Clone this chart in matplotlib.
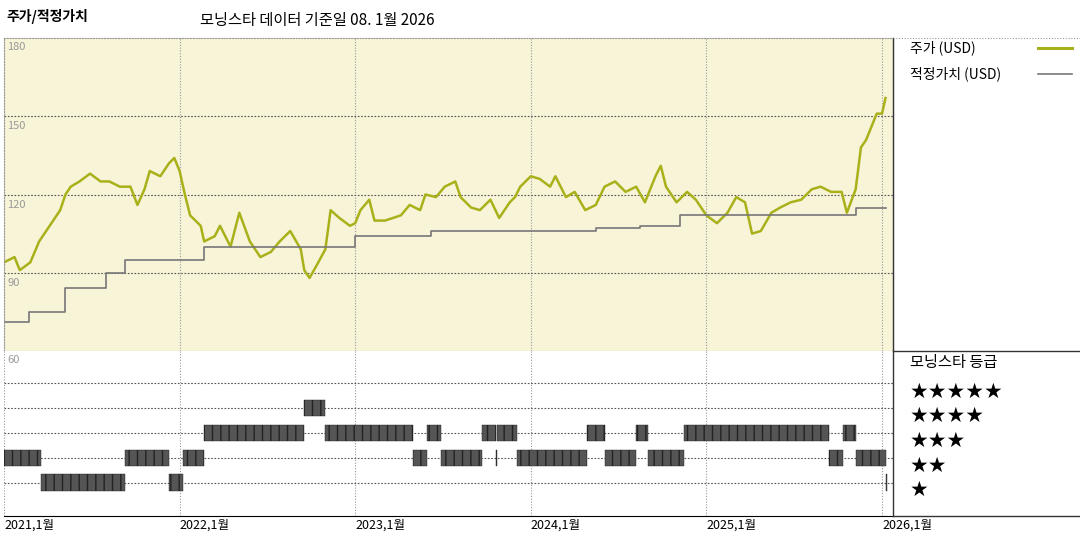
import matplotlib
matplotlib.use("Agg")
import matplotlib.pyplot as plt
import numpy as np

plt.rcParams['font.family'] = ['Noto Sans CJK KR', 'DejaVu Sans']

# price (fractional year, USD)
price_x = [2021.00,2021.06,2021.09,2021.15,2021.20,2021.26,2021.32,2021.35,2021.38,2021.43,2021.49,2021.55,2021.60,2021.66,2021.72,2021.76,2021.80,2021.83,2021.89,2021.94,2021.97,2022.00,2022.03,2022.06,2022.12,2022.14,2022.20,2022.23,2022.29,2022.34,2022.40,2022.46,2022.52,2022.57,2022.63,2022.69,2022.71,2022.74,2022.79,2022.83,2022.86,2022.91,2022.97,2023.00,2023.03,2023.08,2023.11,2023.17,2023.26,2023.31,2023.37,2023.40,2023.46,2023.51,2023.57,2023.60,2023.66,2023.71,2023.77,2023.82,2023.88,2023.91,2023.94,2024.00,2024.05,2024.11,2024.14,2024.20,2024.25,2024.31,2024.37,2024.42,2024.48,2024.54,2024.60,2024.65,2024.71,2024.74,2024.77,2024.83,2024.89,2024.94,2025.00,2025.06,2025.12,2025.17,2025.22,2025.26,2025.31,2025.37,2025.42,2025.48,2025.54,2025.60,2025.65,2025.71,2025.74,2025.77,2025.80,2025.85,2025.88,2025.91,2025.94,2025.97,2026.00,2026.02]
price_y = [94,96,91,94,102,108,114,120,123,125,128,125,125,123,123,116,122,129,127,132,134,129,120,112,108,102,104,108,100,113,102,96,98,102,106,99,91,88,94,99,114,111,108,109,114,118,110,110,112,116,114,120,119,123,125,119,115,114,118,111,117,119,123,127,126,123,127,119,121,114,116,123,125,121,123,117,127,131,123,117,121,118,112,109,113,119,117,105,106,113,115,117,118,122,123,121,121,121,113,122,138,141,146,151,151,157]

# fair value steps
fv_x = [2021.00,2021.14,2021.35,2021.58,2021.69,2022.14,2023.00,2023.43,2024.37,2024.62,2024.85,2025.19,2025.85,2026.02]
fv_y = [71,75,84,90,95,100,104,106,107,108,112,112,115,115]

# Morningstar rating segments (start, end, stars)
rt_start = [2021.00,2021.21,2021.69,2021.94,2022.02,2022.14,2022.71,2022.83,2023.33,2023.41,2023.49,2023.72,2023.80,2023.81,2023.92,2024.32,2024.42,2024.60,2024.67,2024.87,2025.70,2025.78,2025.85,2026.02]
rt_end   = [2021.21,2021.69,2021.94,2022.02,2022.14,2022.71,2022.83,2023.33,2023.41,2023.49,2023.72,2023.80,2023.81,2023.92,2024.32,2024.42,2024.60,2024.67,2024.87,2025.70,2025.78,2025.85,2026.02,2026.03]
rt_val   = [2,1,2,1,2,3,4,3,2,3,2,3,2,3,2,3,2,3,2,3,2,3,2,1]

yticks = [90, 120, 150]
xticks = [2021, 2022, 2023, 2024, 2025, 2026]
xlabels = ['2021,1월', '2022,1월', '2023,1월', '2024,1월', '2025,1월', '2026,1월']

W, H = 1080, 540
fig = plt.figure(figsize=(10.8, 5.4), dpi=100)
xmin, xmax = 2021 - 0.0, 2021 + (893 - 4) / 175.6

ax = fig.add_axes([4/W, (H-351)/H, 889/W, 313/H])
ax.set_facecolor('#f8f4d8')
ax.set_xlim(xmin, xmax); ax.set_ylim(60, 180)
for t in xticks:
    ax.axvline(t, color='#999', ls=(0, (1, 1.5)), lw=0.8)
for v in yticks:
    ax.axhline(v, color='#555', ls=(0, (1.5, 1.5)), lw=0.8)
    ax.text(xmin + 0.02, v - 2, str(v), color='#999', fontsize=8, va='top')
ax.text(xmin + 0.02, 178.5, '180', color='#999', fontsize=8, va='top')
ax.plot(price_x, price_y, color='#a9b11a', lw=1.8)
ax.step(fv_x, fv_y, where='post', color='#777', lw=1.2)
ax.set_xticks([]); ax.set_yticks([])
for s in ax.spines.values():
    s.set_color('#999'); s.set_linestyle((0, (1, 1.5)))

ax2 = fig.add_axes([4/W, (H-516)/H, 889/W, 165/H])
ax2.set_xlim(xmin, xmax); ax2.set_ylim(-0.35, 6.3)
for t in xticks:
    ax2.axvline(t, color='#999', ls=(0, (1, 1.5)), lw=0.8)
for k in range(1, 6):
    ax2.axhline(k, color='#555', ls=(0, (1.5, 1.5)), lw=0.8)
ax2.text(xmin + 0.02, 6.15, '60', color='#999', fontsize=8, va='top')
for s0, s1, r in zip(rt_start, rt_end, rt_val):
    ax2.barh(r, s1 - s0, left=s0, height=0.65, color='#555', edgecolor='#222', hatch='||', lw=0.3, zorder=3)
ax2.set_yticks([])
ax2.set_xticks(xticks)
ax2.set_xticklabels(xlabels, fontsize=9)
ax2.tick_params(length=0, pad=2)
for lab in ax2.get_xticklabels():
    lab.set_horizontalalignment('left')
for k, s in ax2.spines.items():
    s.set_visible(k == 'bottom')

# frame lines
fig.add_artist(plt.Line2D([893/W, 893/W], [(H-516)/H, (H-38)/H], color='#333', lw=1))
fig.add_artist(plt.Line2D([893/W, 1], [(H-351)/H, (H-351)/H], color='#333', lw=1))
fig.add_artist(plt.Line2D([893/W, 1], [(H-516)/H, (H-516)/H], color='#333', lw=1))
fig.add_artist(plt.Line2D([893/W, 1], [(H-38)/H, (H-38)/H], color='#999', lw=0.8, ls=(0, (1, 1.5))))

fig.text(6/W, 1-17/H, '주가/적정가치', fontsize=10, fontweight='bold', va='center')
fig.text(200/W, 1-20/H, '모닝스타 데이터 기준일 08. 1월 2026', fontsize=11, va='center')
fig.text(910/W, 1-48/H, '주가 (USD)', fontsize=10, va='center')
fig.add_artist(plt.Line2D([1038/W, 1072/W], [1-48/H, 1-48/H], color='#a9b11a', lw=2.2))
fig.text(910/W, 1-74/H, '적정가치 (USD)', fontsize=10, va='center')
fig.add_artist(plt.Line2D([1038/W, 1072/W], [1-74/H, 1-74/H], color='#777', lw=1.2))
fig.text(910/W, 1-362/H, '모닝스타 등급', fontsize=11, va='center')
for k, yy in zip(range(5, 0, -1), [392, 416, 441, 466, 490]):
    fig.text(910/W, 1-yy/H, '★' * k, fontsize=15, va='center', family=['DejaVu Sans'])

fig.savefig('out.png', dpi=100)
